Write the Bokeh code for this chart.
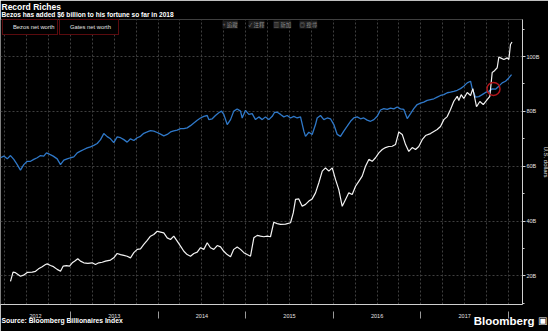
from bokeh.plotting import figure
from bokeh.models import (Range1d, LinearAxis, FixedTicker, Grid, Legend, LegendItem,
                          Label, Title, CustomJSTickFormatter)
from bokeh.embed import file_html
from bokeh.resources import INLINE

# ---------------- data ----------------
title_text = "Record Riches"
subtitle_text = "Bezos has added $6 billion to his fortune so far in 2018"
source_text = "Source: Bloomberg Billionaires Index"
brand_text = "Bloomberg"
y_axis_title = "U.S. dollars"
series_names = ["Bezos net worth", "Gates net worth"]
toolbar_texts = ["+ 追蹤", "✓ 注釋", "▥ 新加", "◎ 搜尋"]

years = [2012, 2013, 2014, 2015, 2016, 2017]
y_ticks = [20, 40, 60, 80, 100]
y_tick_labels = ["20B", "40B", "60B", "80B", "100B"]
y_minor_ticks = [10, 30, 50, 70, 90, 110]

# time in decimal years, net worth in billions of US dollars
bezos_t = [2012.315, 2012.344, 2012.372, 2012.429, 2012.464, 2012.506, 2012.563, 2012.601, 2012.635,
           2012.677, 2012.715, 2012.734, 2012.772, 2012.806, 2012.848, 2012.886, 2012.917, 2012.954,
           2012.989, 2013.020, 2013.046, 2013.083, 2013.114, 2013.152, 2013.198, 2013.248, 2013.285,
           2013.323, 2013.362, 2013.400, 2013.457, 2013.494, 2013.533, 2013.571, 2013.609, 2013.647,
           2013.685, 2013.723, 2013.762, 2013.799, 2013.837, 2013.876, 2013.913, 2013.951, 2013.990,
           2014.028, 2014.065, 2014.104, 2014.142, 2014.179, 2014.218, 2014.256, 2014.294, 2014.332,
           2014.370, 2014.408, 2014.447, 2014.484, 2014.522, 2014.561, 2014.598, 2014.636, 2014.675,
           2014.713, 2014.750, 2014.789, 2014.827, 2014.864, 2014.903, 2014.941, 2014.979, 2015.017,
           2015.055, 2015.093, 2015.132, 2015.169, 2015.207, 2015.246, 2015.283, 2015.321, 2015.360,
           2015.398, 2015.455, 2015.512, 2015.543, 2015.569, 2015.606, 2015.645, 2015.683, 2015.721,
           2015.759, 2015.797, 2015.835, 2015.874, 2015.911, 2015.949, 2015.988, 2016.025, 2016.063,
           2016.102, 2016.140, 2016.177, 2016.216, 2016.254, 2016.291, 2016.330, 2016.368, 2016.406,
           2016.444, 2016.482, 2016.520, 2016.559, 2016.596, 2016.634, 2016.673, 2016.710, 2016.748,
           2016.787, 2016.825, 2016.862, 2016.901, 2016.939, 2016.976, 2017.015, 2017.053, 2017.110,
           2017.186, 2017.224, 2017.262, 2017.301, 2017.338, 2017.376, 2017.415, 2017.433, 2017.460,
           2017.490, 2017.529, 2017.567, 2017.593, 2017.616, 2017.635, 2017.673, 2017.712, 2017.757,
           2017.787, 2017.814, 2017.833, 2017.871, 2017.890, 2017.909, 2017.947, 2017.986, 2018.004,
           2018.023, 2018.040]
bezos_v = [18.0, 21.4, 21.2, 19.9, 20.3, 21.3, 21.4, 21.7, 22.6,
           23.4, 24.2, 24.4, 23.8, 23.4, 22.4, 21.7, 23.6, 23.8,
           23.6, 24.8, 25.4, 26.3, 25.4, 24.8, 24.6, 24.8, 24.2,
           24.8, 25.0, 25.4, 25.8, 26.6, 28.2, 27.8, 27.5, 27.2,
           26.6, 28.5, 29.7, 29.9, 31.5, 33.0, 34.5, 35.1, 36.3,
           36.0, 35.7, 33.9, 33.3, 34.5, 32.7, 30.9, 29.0, 27.8,
           27.2, 28.2, 28.7, 30.3, 29.7, 32.1, 30.3, 29.7, 31.1,
           30.6, 29.0, 27.8, 27.0, 29.7, 30.6, 29.7, 28.5, 27.8,
           27.2, 33.9, 34.8, 34.5, 34.3, 34.5, 34.3, 39.6, 39.1,
           38.8, 38.9, 39.4, 43.0, 47.9, 48.1, 45.4, 46.1, 47.3,
           48.1, 50.3, 54.0, 58.2, 59.4, 58.2, 59.4, 55.2, 51.5,
           45.4, 47.9, 50.3, 49.7, 52.7, 54.5, 56.4, 60.0, 62.5,
           61.8, 63.1, 64.9, 66.1, 66.8, 67.2, 67.3, 67.9, 72.5,
           71.6, 67.9, 65.4, 66.8, 66.1, 67.2, 69.7, 71.2, 71.9,
           73.4, 74.5, 77.0, 78.1, 80.7, 83.7, 85.5, 84.0, 86.1,
           84.7, 86.9, 85.8, 88.3, 84.7, 81.7, 83.6, 82.5, 84.3,
           85.5, 94.2, 94.6, 95.9, 99.8, 99.5, 98.9, 99.5, 98.9,
           104.4, 105.3]

gates_t = [2012.201, 2012.239, 2012.278, 2012.315, 2012.353, 2012.392, 2012.429, 2012.467, 2012.506,
           2012.544, 2012.581, 2012.620, 2012.658, 2012.695, 2012.726, 2012.764, 2012.803, 2012.848,
           2012.886, 2012.924, 2012.962, 2013.000, 2013.038, 2013.077, 2013.114, 2013.152, 2013.191,
           2013.228, 2013.266, 2013.305, 2013.343, 2013.380, 2013.419, 2013.457, 2013.494, 2013.533,
           2013.571, 2013.609, 2013.647, 2013.685, 2013.723, 2013.762, 2013.799, 2013.837, 2013.876,
           2013.913, 2013.951, 2013.990, 2014.028, 2014.065, 2014.104, 2014.142, 2014.179, 2014.218,
           2014.256, 2014.294, 2014.332, 2014.370, 2014.408, 2014.447, 2014.484, 2014.522, 2014.561,
           2014.579, 2014.618, 2014.655, 2014.693, 2014.724, 2014.750, 2014.789, 2014.827, 2014.864,
           2014.903, 2014.941, 2014.960, 2014.998, 2015.036, 2015.074, 2015.112, 2015.150, 2015.189,
           2015.226, 2015.264, 2015.303, 2015.329, 2015.360, 2015.398, 2015.435, 2015.474, 2015.512,
           2015.549, 2015.588, 2015.626, 2015.664, 2015.683, 2015.721, 2015.759, 2015.797, 2015.816,
           2015.854, 2015.892, 2015.931, 2015.968, 2016.006, 2016.045, 2016.082, 2016.120, 2016.159,
           2016.197, 2016.234, 2016.273, 2016.311, 2016.348, 2016.387, 2016.425, 2016.463, 2016.501,
           2016.539, 2016.577, 2016.616, 2016.653, 2016.691, 2016.730, 2016.767, 2016.805, 2016.844,
           2016.882, 2016.919, 2016.958, 2016.996, 2017.033, 2017.072, 2017.110, 2017.148, 2017.186,
           2017.224, 2017.262, 2017.301, 2017.338, 2017.376, 2017.415, 2017.452, 2017.490, 2017.529,
           2017.567, 2017.586, 2017.624, 2017.661, 2017.700, 2017.738, 2017.775, 2017.814, 2017.852,
           2017.890, 2017.928, 2017.966, 2018.004, 2018.035]
gates_v = [63.1, 63.7, 62.7, 63.9, 62.5, 60.6, 58.6, 60.6, 61.8,
           61.8, 62.5, 63.1, 63.9, 63.7, 64.9, 64.3, 63.7, 62.7,
           60.6, 62.2, 62.7, 63.1, 63.4, 64.9, 65.5, 66.1, 66.7,
           67.1, 67.6, 68.3, 69.7, 71.9, 70.8, 70.0, 68.6, 70.7,
           70.4, 69.7, 68.8, 70.0, 69.4, 70.4, 70.9, 72.0, 72.5,
           73.0, 72.8, 72.3, 71.7, 71.1, 71.6, 72.5, 72.9, 73.2,
           73.7, 73.7, 74.0, 74.8, 75.8, 76.8, 77.6, 78.2, 78.5,
           77.0, 77.3, 78.5, 79.5, 80.1, 78.9, 75.2, 77.0, 80.1,
           80.9, 80.1, 77.6, 80.4, 78.9, 79.2, 77.0, 78.0, 77.0,
           78.0, 77.0, 78.2, 79.6, 79.7, 78.9, 78.0, 78.5, 77.6,
           78.2, 77.6, 78.0, 72.8, 70.9, 72.4, 71.6, 75.2, 77.6,
           78.5, 77.0, 77.6, 77.3, 75.2, 71.6, 70.9, 72.8, 74.6,
           76.4, 77.6, 78.0, 77.3, 77.6, 76.8, 76.4, 77.0, 78.2,
           80.5, 81.0, 80.7, 81.2, 80.9, 81.6, 80.9, 80.7, 77.4,
           79.2, 81.0, 82.5, 83.0, 83.4, 84.0, 84.3, 84.6, 85.2,
           85.8, 86.1, 86.8, 87.0, 87.3, 87.7, 88.3, 89.2, 90.4,
           91.0, 88.3, 85.2, 85.4, 86.1, 86.9, 87.3, 88.2, 88.1,
           89.2, 90.4, 91.0, 92.2, 93.4]

# the point where Bezos overtakes Gates (red circle)
overtake_t = [2017.829]
overtake_v = [88.2]

# ---------------- figure ----------------
X0, X1 = 2012.201, 2018.16
Y0, Y1 = 9.6, 113.5
W, H = 548, 332
FRAME_W, FRAME_H = 522, 285

BG = "#000000"
AXIS_C = "#cfcfcf"
GRID_C = "#3f3f3f"
TEXT_C = "#e4e4e4"
BEZOS_C = "#f2f2f2"
GATES_C = "#2f78c8"
RED = "#b3151b"
FONT = "Liberation Sans"

p = figure(width=W, height=H, frame_width=FRAME_W, frame_height=FRAME_H, title=None,
           x_range=Range1d(X0, X1), y_range=Range1d(Y0, Y1),
           output_backend="svg", toolbar_location=None,
           x_axis_location=None, y_axis_location=None,
           min_border_left=0, min_border_right=26, min_border_top=0, min_border_bottom=27,
           background_fill_color=BG, border_fill_color=BG, outline_line_color=None)
p.center = [r for r in p.center if not isinstance(r, Grid)]

# header: spacer next to the frame, then subtitle, then title (outermost)
p.add_layout(Title(text=" ", standoff=-2, text_font=FONT, text_font_size="2px",
                   text_color=BG), "above")
p.add_layout(Title(text=subtitle_text, align="left", offset=1, standoff=-5, vertical_align="top",
                   text_font=FONT, text_font_size="6.6px", text_font_style="bold",
                   text_color="white"), "above")
p.add_layout(Title(text=title_text, align="left", offset=1, standoff=1, vertical_align="middle",
                   text_font=FONT, text_font_size="8.5px", text_font_style="bold",
                   text_color="white"), "above")

# grids
quarters = [y + q / 4 for y in range(2012, 2019) for q in range(4) if X0 < y + q / 4 < X1]
p.add_layout(Grid(dimension=0, ticker=FixedTicker(ticks=quarters), grid_line_color=GRID_C,
                  grid_line_dash="2 2", grid_line_width=1))
p.add_layout(Grid(dimension=1, ticker=FixedTicker(ticks=y_ticks), grid_line_color=GRID_C,
                  grid_line_dash="2 2", grid_line_width=1))

# bottom axis: year labels centred in each year, separators at year boundaries
year_mid = [(max(y, X0) + min(y + 1, X1)) / 2 for y in years]
year_bounds = [y + 1 for y in years]
ax = LinearAxis(ticker=FixedTicker(ticks=year_mid, minor_ticks=year_bounds),
                formatter=CustomJSTickFormatter(code="return String(Math.floor(tick))"),
                axis_line_color=AXIS_C, axis_line_width=1,
                major_tick_line_color=None, major_tick_in=0, major_tick_out=0,
                minor_tick_in=-7, minor_tick_out=14, minor_tick_line_color="#9a9a9a",
                major_label_standoff=-5, major_label_text_font_size="5.5px",
                major_label_text_color=TEXT_C, major_label_text_font=FONT)
p.add_layout(ax, "below")

# source line (left) with the brand on the same row (right)
p.add_layout(Title(text=source_text, align="left", offset=1, standoff=-9, vertical_align="middle",
                   text_font=FONT, text_font_size="6.8px", text_font_style="bold",
                   text_color="white"), "below")
p.add_layout(Title(text=brand_text, align="right", offset=-12, standoff=-15, vertical_align="middle",
                   text_font=FONT, text_font_size="11.5px", text_color="white"), "below")
p.add_layout(Title(text="▣", align="right", offset=-25, standoff=-13, vertical_align="middle",
                   text_font="DejaVu Sans", text_font_size="10px", text_color="white"), "below")

# right axis
ay = LinearAxis(ticker=FixedTicker(ticks=y_ticks, minor_ticks=y_minor_ticks),
                formatter=CustomJSTickFormatter(args=dict(tick_vals=y_ticks, tick_texts=y_tick_labels),
                                                code="const i = tick_vals.indexOf(tick); return i >= 0 ? tick_texts[i] : '';"),
                axis_line_color=AXIS_C, major_tick_line_color=AXIS_C, minor_tick_line_color=AXIS_C,
                major_tick_in=0, major_tick_out=3, minor_tick_in=0, minor_tick_out=2,
                major_label_standoff=1, major_label_text_font_size="5.5px",
                major_label_text_color=TEXT_C, major_label_text_font=FONT,
                axis_label=y_axis_title, axis_label_standoff=1, axis_label_text_font=FONT,
                axis_label_text_font_size="6px", axis_label_text_font_style="normal",
                axis_label_text_color=TEXT_C)
p.add_layout(ay, "right")

# series
p.line(gates_t, gates_v, line_color=GATES_C, line_width=1.3)
p.line(bezos_t, bezos_v, line_color=BEZOS_C, line_width=1.2)
p.scatter(overtake_t, overtake_v, marker="circle", size=13, fill_color=None,
          line_color=RED, line_width=1.5)

# legend (two separate framed boxes)
sw_b = p.quad(left=[], right=[], top=[], bottom=[], fill_color="white", line_color=None)
sw_g = p.quad(left=[], right=[], top=[], bottom=[], fill_color=GATES_C, line_color=None)
for name, rend, loc, lw in [(series_names[0], sw_b, (2, FRAME_H - 16), 20),
                            (series_names[1], sw_g, (59, FRAME_H - 16), 46)]:
    lg = Legend(items=[LegendItem(label=name, renderers=[rend])], location=loc,
                orientation="horizontal", border_line_color=RED, border_line_width=1.5,
                background_fill_color=BG, background_fill_alpha=1.0,
                label_text_color=TEXT_C, label_text_font_size="5.8px", label_text_font=FONT,
                glyph_width=6, glyph_height=6, label_height=10, label_width=lw,
                padding=2, margin=0, spacing=0, label_standoff=2)
    p.add_layout(lg)

# faint overlay toolbar seen at the top of the chart
for tx, xpos in zip(toolbar_texts, [222, 248, 273, 299]):
    p.add_layout(Label(x=xpos, y=FRAME_H - 1, x_units="screen", y_units="screen",
                       text=tx, text_baseline="top", text_font="Noto Sans CJK TC",
                       text_font_size="5.5px", text_color="#8c8c8c",
                       background_fill_color="#1c1c1c"))

open("out.html", "w").write(file_html(p, INLINE))
